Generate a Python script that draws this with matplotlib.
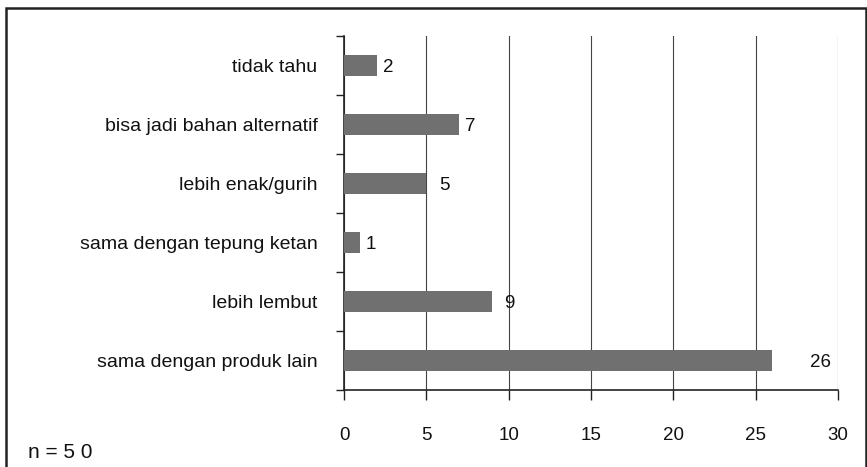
import matplotlib
matplotlib.use("Agg")
import matplotlib.pyplot as plt
from matplotlib.patches import Rectangle
from matplotlib import font_manager

categories = ["tidak tahu", "bisa jadi bahan alternatif", "lebih enak/gurih",
              "sama dengan tepung ketan", "lebih lembut", "sama dengan produk lain"]
values = [2, 7, 5, 1, 9, 26]
x_ticks = [0, 5, 10, 15, 20, 25, 30]
note = "n = 5 0"

names = {f.name for f in font_manager.fontManager.ttflist}
fam = [f for f in ["Liberation Sans Narrow", "Liberation Sans", "DejaVu Sans"] if f in names]
plt.rcParams['font.family'] = fam

fig = plt.figure(figsize=(8.67, 4.67), dpi=100)
ax = fig.add_axes([344/867, 1-390/467, (838-344)/867, (390-36)/467])

n = len(categories)
ypos = list(range(n))[::-1]
ax.barh(ypos, values, height=0.37, color="#717071", zorder=3)
ax.set_ylim(-0.5, n-0.5)
ax.set_xlim(0, 30)

pads = [6, 6, 13, 5, 12, 38]
for y, v, p in zip(ypos, values, pads):
    ax.annotate(str(v), (v, y), xytext=(p*0.72, -1.5), textcoords="offset points",
                ha="left", va="center", fontsize=13.5, color="#111111")

ax.set_xticks(x_ticks)
ax.set_xticklabels([str(t) for t in x_ticks], fontsize=13.5, color="#111111")
ax.tick_params(axis='x', length=7, width=1, color="#222222", pad=20, direction='out')
ax.grid(axis='x', color="#444444", linewidth=0.8, zorder=0)

ax.set_yticks(ypos)
ax.set_yticklabels(categories, fontsize=14, color="#111111")
ax.tick_params(axis='y', which='major', length=0, pad=19)
ax.set_yticks([i - 0.5 for i in range(n+1)], minor=True)
ax.tick_params(axis='y', which='minor', length=6, width=1, color="#222222", direction='out')

for s in ['top', 'right']:
    ax.spines[s].set_visible(False)
for s in ['left', 'bottom']:
    ax.spines[s].set_color("#222222")
    ax.spines[s].set_linewidth(1.2)

fig.text(28/867, 1-458/467, note, fontsize=15, color="#111111", ha="left", va="baseline")

fig.patches.append(Rectangle((6/867, -0.2), (866-6)/867, 1.2-8/467,
                             transform=fig.transFigure, fill=False,
                             edgecolor="#222222", linewidth=1.8))

fig.savefig("out.png", dpi=100)
